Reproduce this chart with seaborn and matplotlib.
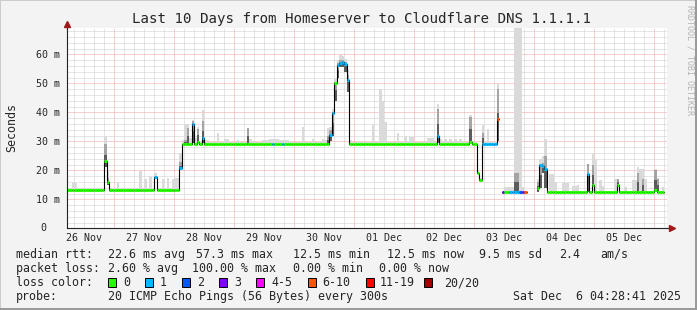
import numpy as np
import pandas as pd
import matplotlib
matplotlib.use("Agg")
import matplotlib.pyplot as plt
import seaborn as sns
from matplotlib.ticker import FixedLocator, NullFormatter, FuncFormatter
from matplotlib.patches import Rectangle

# ---------------- data ----------------
# x axis: hours since 26 Nov 00:00, one bin per hour
day_tick_hours = [24, 48, 72, 96, 120, 144, 168, 192, 216, 240]
day_label_hours = [12, 36, 60, 84, 108, 132, 156, 180, 204, 228]
day_labels = ["26 Nov", "27 Nov", "28 Nov", "29 Nov", "30 Nov",
              "01 Dec", "02 Dec", "03 Dec", "04 Dec", "05 Dec"]

# median rtt (ms), run-length encoded; loss index -1 = no data
seg_start = [4, 20, 21, 22, 40, 41, 50, 51, 55, 56, 57, 58, 59, 60, 87, 88, 91, 92,
             110, 111, 112, 113, 114, 115, 116, 117, 118, 153, 154, 166, 167, 169, 170,
             171, 177, 178, 179, 180, 182, 186, 187, 188, 189, 193, 194, 195, 196, 197,
             213, 214, 215, 216, 225, 226, 240, 241]
seg_len = [16, 1, 1, 18, 1, 9, 1, 4, 1, 1, 1, 1, 1, 27, 1, 3, 1, 18,
           1, 1, 1, 1, 1, 1, 1, 1, 35, 1, 12, 1, 2, 1, 1,
           6, 1, 1, 1, 2, 4, 1, 1, 1, 4, 1, 1, 1, 1, 16,
           1, 1, 1, 9, 1, 14, 1, 3]
seg_median = [13.3, 23.2, 15.8, 13.3, 17.7, 13.3, 20.9, 29.2, 35.9, 29.2, 29.8, 29.2, 31.3, 29.2,
              29.2, 29.2, 29.2, 29.2,
              32.3, 39.8, 50.1, 56.2, 57.1, 57.3, 56.8, 51.0, 29.1, 31.8, 29.1, 29.8, 29.1,
              19.2, 16.8, 29.1, 37.8, np.nan, 12.5, 12.5, 12.5, 12.5, 12.5, 12.5, np.nan,
              14.0, 21.7, 21.4, 20.6, 12.5, 18.8, 12.5, 14.8, 12.5, 14.8, 12.5, 13.1, 12.5]
seg_loss = [0, 0, 0, 0, 1, 0, 1, 0, 1, 0, 0, 0, 1, 0, 1, 0, 1, 0,
            1, 1, 0, 1, 1, 1, 1, 1, 0, 1, 0, 0, 0, 0, 0,
            1, 5, -1, 3, 0, 1, 2, 3, 5, -1, 0, 1, 1, 1, 0,
            1, 0, 0, 0, 0, 0, 0, 0]

# smoke (ping spread) for selected hours: top of light smoke, top of dense smoke, bottom
smoke_hour = [7, 8, 20, 21, 25, 34, 36, 38, 40, 43, 45, 47, 48, 49, 50,
              51, 52, 53, 54, 55, 56, 57, 58, 59, 60, 61, 65, 68, 69, 73, 77, 78,
              83, 84, 85, 86, 87, 88, 89, 90, 91, 92, 93, 99, 103, 107, 108, 109,
              110, 111, 112, 113, 114, 115, 116, 117, 118,
              127, 130, 131, 132, 137, 140, 142, 143, 149, 150, 151, 153, 154, 156,
              158, 160, 162, 166, 171, 173, 177,
              180, 181, 182, 183, 184, 185, 186, 187,
              193, 194, 195, 196, 198, 199, 200, 203, 204, 205, 207, 208, 209,
              213, 215, 216, 218, 219, 224, 225, 228, 231, 232, 233, 234, 235, 236,
              240, 241, 243]
smoke_top = [16.0, 15.5, 32.0, 20.0, 16.0, 19.8, 17.0, 18.0, 19.0, 17.0, 17.5, 17.0, 17.5, 17.5, 26.0,
             30.5, 36.1, 36.0, 31.0, 37.5, 31.0, 34.8, 30.0, 40.7, 30.5, 30.5, 32.9, 30.7, 30.7, 30.5, 34.5, 30.8,
             30.5, 30.5, 30.5, 30.7, 30.7, 30.7, 30.7, 30.5, 30.5, 30.5, 30.5, 34.9, 30.8, 30.8, 30.5, 34.5,
             35.0, 41.0, 51.5, 58.0, 59.7, 59.5, 58.5, 54.5, 30.5,
             35.5, 48.2, 44.0, 36.6, 32.7, 32.0, 31.5, 31.5, 31.0, 31.0, 31.0, 43.0, 30.8, 30.8,
             30.8, 30.8, 30.8, 38.9, 35.5, 34.1, 49.9,
             14.2, 14.2, 14.2, 14.2, 72.0, 72.0, 72.0, 14.2,
             17.0, 24.0, 25.0, 30.9, 18.8, 18.8, 16.0, 15.5, 15.5, 15.5, 14.5, 14.5, 15.0,
             22.3, 25.7, 24.0, 16.6, 14.5, 17.1, 17.0, 14.2, 16.6, 16.6, 21.1, 20.5, 20.6, 17.0,
             20.6, 17.5, 14.2]
nan = np.nan
smoke_dense = [nan, nan, 29.0, 17.5, nan, nan, nan, nan, nan, nan, nan, nan, nan, nan, 23.0,
               nan, 30.5, 34.5, nan, 37.0, nan, 34.4, nan, 37.0, nan, nan, nan, nan, nan, nan, 34.5, nan,
               nan, nan, nan, nan, nan, nan, nan, nan, nan, nan, nan, nan, nan, nan, nan, 32.0,
               34.0, 40.0, 50.5, 57.0, 58.0, 58.0, 57.5, 53.0, nan,
               nan, nan, nan, nan, nan, nan, nan, nan, nan, nan, nan, 41.0, nan, nan,
               nan, nan, nan, 38.4, 33.0, nan, 48.0,
               nan, nan, nan, nan, 19.0, 19.0, nan, nan,
               16.0, 22.0, 22.5, 25.0, nan, nan, nan, nan, nan, nan, nan, nan, nan,
               22.3, 21.7, nan, nan, nan, nan, 17.0, nan, nan, nan, 19.0, nan, 17.1, nan,
               20.0, 17.0, nan]
smoke_low = [nan, nan, 21.0, 15.0, nan, nan, nan, nan, 17.0, nan, nan, nan, nan, nan, 20.0,
             nan, nan, nan, nan, 29.5, nan, nan, nan, 29.5, nan, nan, nan, nan, nan, nan, nan, nan,
             nan, nan, nan, nan, nan, nan, nan, nan, nan, nan, nan, nan, nan, nan, nan, nan,
             30.0, 32.0, 44.0, 52.0, 55.5, 55.5, 54.0, 47.0, nan,
             nan, nan, nan, nan, nan, nan, nan, nan, nan, nan, nan, 29.5, nan, nan,
             nan, nan, nan, 29.1, nan, nan, 30.0,
             nan, nan, nan, nan, nan, nan, nan, nan,
             12.5, 14.0, 19.0, 14.0, nan, nan, nan, nan, nan, nan, nan, nan, nan,
             12.5, nan, nan, nan, nan, nan, nan, nan, nan, nan, nan, nan, nan, nan,
             nan, nan, nan]

loss_colors = ["#26ff00", "#00b8ff", "#0059ff", "#7e00ff", "#ff00ff", "#ff5500", "#ff0000", "#a10000"]
loss_labels = ["0", "1", "2", "3", "4-5", "6-10", "11-19", "20/20"]

# ---------------- build bins ----------------
hours, med, loss = [], [], []
for s, n, m, c in zip(seg_start, seg_len, seg_median, seg_loss):
    for k in range(n):
        hours.append(s + k)
        med.append(m)
        loss.append(c)
hours = np.array(hours, float)
med = np.array(med, float)
loss = np.array(loss)
valid = ~np.isnan(med)

lo = med - 0.4
hi = med + 0.5
dense = np.full_like(med, np.nan)
idx = {int(h): i for i, h in enumerate(hours)}
for h, t, d, l in zip(smoke_hour, smoke_top, smoke_dense, smoke_low):
    i = idx[h]
    hi[i] = t
    dense[i] = d
    if not np.isnan(l):
        lo[i] = l

# ---------------- figure ----------------
sns.set_style("white")
plt.rcParams["font.family"] = ["DejaVu Sans Mono", "DejaVu Sans"]
W, H = 697, 310
fig = plt.figure(figsize=(W / 100, H / 100), dpi=100)
fig.patch.set_facecolor("#f3f3f3")

def fx(px):
    return px / W

def fy(py):
    return 1 - py / H

L, R, T, B = 66.7, 666.7, 27.7, 228.3
ax = fig.add_axes([fx(L), fy(B), (R - L) / W, (B - T) / H])
ax.set_facecolor("white")
ax.set_xlim(4.96, 244.96)
ax.set_ylim(0, (B - T) / 2.9)

# grid
ax.xaxis.set_major_locator(FixedLocator(day_tick_hours))
ax.xaxis.set_major_formatter(NullFormatter())
ax.xaxis.set_minor_locator(FixedLocator(list(range(4, 248, 4))))
lab = dict(zip(day_label_hours, day_labels))
ax.xaxis.set_minor_formatter(FuncFormatter(lambda v, p: lab.get(int(round(v)), "")))
ax.yaxis.set_major_locator(FixedLocator(list(range(0, 70, 10))))
ax.yaxis.set_minor_locator(FixedLocator(list(range(0, 70, 2))))
ax.set_yticklabels(["", "10 m", "20 m", "30 m", "40 m", "50 m", "60 m"])
ax.grid(which="minor", color="#cdcdcd", linestyle=(0, (1, 1)), linewidth=0.72)
ax.grid(which="major", color="#f3a0a0", linestyle=(0, (1, 1)), linewidth=0.72)
ax.set_axisbelow(True)

ax.tick_params(axis="x", which="major", length=2.2, width=0.72, color="#f08080", labelsize=7.2)
ax.tick_params(axis="x", which="minor", length=0, labelsize=7.2, pad=3.2)
ax.tick_params(axis="y", which="major", length=2.2, width=0.72, color="#333333", labelsize=7.2, pad=2.6)
ax.tick_params(axis="y", which="minor", length=0)
ax.annotate("0", xy=(0, 0), xycoords=("axes fraction", "data"), xytext=(-20, 0),
            textcoords="offset pixels", ha="right", va="center", fontsize=7.2)

for s in ["top", "right"]:
    ax.spines[s].set_visible(False)
for s in ["left", "bottom"]:
    ax.spines[s].set_color("#222222")
    ax.spines[s].set_linewidth(0.8)
    ax.spines[s].set_zorder(6)

# smoke
hv = hours[valid]
ax.bar(hv, (hi - lo)[valid], bottom=lo[valid], width=1, align="edge",
       color="#dadada", linewidth=0, zorder=2)
dm = valid & ~np.isnan(dense)
ax.bar(hours[dm], (dense - lo)[dm], bottom=lo[dm], width=1, align="edge",
       color="#a4a4a4", linewidth=0, zorder=2.1)
ax.bar(hours[dm], ((dense - lo) * 0.55)[dm], bottom=lo[dm], width=1, align="edge",
       color="#5c5c5c", linewidth=0, zorder=2.2)

# median line (black steps) with seaborn, one unit per contiguous run
rows = []
run = 0
prev = False
for i in range(len(hours)):
    if valid[i]:
        if not prev:
            run += 1
        rows.append((hours[i], med[i], run))
        last_next = (i + 1 >= len(hours)) or (not valid[i + 1])
        if last_next:
            rows.append((hours[i] + 1, med[i], run))
    prev = valid[i]
df = pd.DataFrame(rows, columns=["hour", "median", "run"])
sns.lineplot(data=df, x="hour", y="median", units="run", estimator=None,
             drawstyle="steps-post", color="black", linewidth=0.8, ax=ax, zorder=4)
ax.set_xlabel("")
ax.set_ylabel("")

# loss-coloured median segments
cols = [loss_colors[c] for c in loss[valid]]
ax.hlines(med[valid], hv, hv + 1, colors=cols, linewidth=2.2, zorder=5)

# arrows
ax.plot([0], [1.0 + 3.5 / (B - T)], marker="^", color="#a01818", ms=4.2,
        transform=ax.transAxes, clip_on=False, zorder=7)
ax.plot([0, 0], [1.0, 1.0 + 3 / (B - T)], color="#222222", lw=0.8,
        transform=ax.transAxes, clip_on=False, zorder=6)
ax.plot([1.0, 1.0 + 4 / (R - L)], [0, 0], color="#222222", lw=0.8,
        transform=ax.transAxes, clip_on=False, zorder=6)
ax.plot([1.0 + 5 / (R - L)], [0], marker=">", color="#a01818", ms=4.2,
        transform=ax.transAxes, clip_on=False, zorder=7)

# titles
fig.text(fx(361.5), fy(19), "Last 10 Days from Homeserver to Cloudflare DNS 1.1.1.1",
         ha="center", va="center", fontsize=10.2)
fig.text(fx(12), fy(128), "Seconds", rotation=90, ha="center", va="center", fontsize=8.4)
fig.text(fx(690), fy(5), "RRDTOOL / TOBI OETIKER", rotation=270, ha="center", va="top",
         fontsize=6.0, color="#b4b4b4")

# legend
fs = 8.4
rows_txt = [
    (254.3, [(15.6, "median rtt:"), (107.6, "22.6 ms avg"), (195.6, "57.3 ms max"),
             (293, "12.5 ms min"), (386.7, "12.5 ms now"), (479, "9.5 ms sd"),
             (559, "2.4"), (600, "am/s")]),
    (268.3, [(15.6, "packet loss:"), (107.6, "2.60 % avg"), (192, "100.00 % max"),
             (293, "0.00 % min"), (379, "0.00 % now")]),
    (282.5, [(15.6, "loss color:")]),
    (296.5, [(15.6, "probe:"), (107.6, "20 ICMP Echo Pings (56 Bytes) every 300s"),
             (513, "Sat Dec  6 04:28:41 2025")]),
]
for yy, items in rows_txt:
    for xx, s in items:
        fig.text(fx(xx), fy(yy), s, ha="left", va="center", fontsize=fs)

box_x = [108, 145, 182, 219, 256, 307.6, 366, 424]
lab_x = [123, 160, 197, 234, 271, 322, 380, 444]
for c, l, bx, lx in zip(loss_colors, loss_labels, box_x, lab_x):
    fig.add_artist(Rectangle((fx(bx), fy(286.8)), 8.4 / W, 8.6 / H, transform=fig.transFigure,
                             facecolor=c, edgecolor="black", linewidth=0.7))
    fig.text(fx(lx), fy(282.5), l, ha="left", va="center", fontsize=fs)

# frame shading
fig.add_artist(Rectangle((0, 0), 1, 1, transform=fig.transFigure, fill=False,
                         edgecolor="#cbcbcb", linewidth=1.4))
fig.add_artist(plt.Line2D([1 - 1 / W, 1 - 1 / W], [0, 1], transform=fig.transFigure,
                          color="#999999", linewidth=1.4))
fig.add_artist(plt.Line2D([0, 1], [1 / H, 1 / H], transform=fig.transFigure,
                          color="#999999", linewidth=1.4))

fig.savefig("out.png", dpi=100, facecolor=fig.get_facecolor())
